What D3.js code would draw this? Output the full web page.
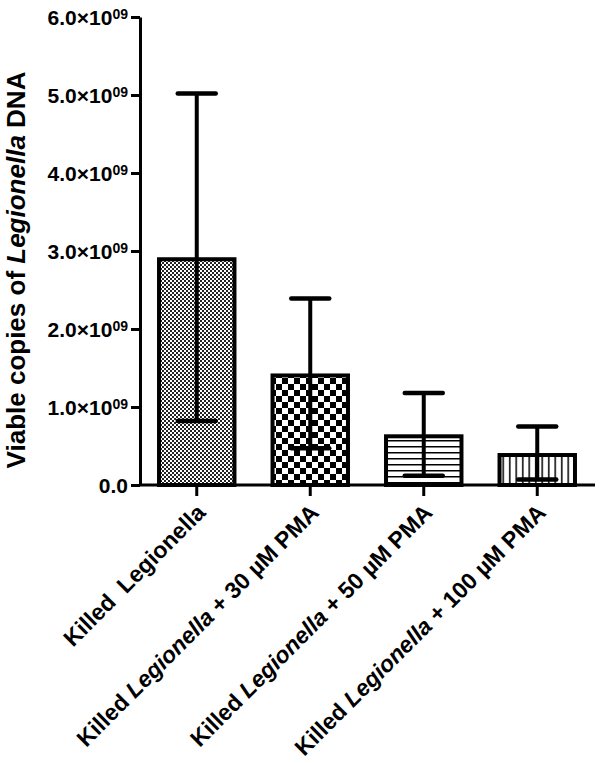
<!DOCTYPE html>
<html>
<head>
<meta charset="utf-8">
<script src="https://cdn.jsdelivr.net/npm/d3@7"></script>
<style>
  body { margin: 0; background: #fff; }
  text { font-family: Arial, "Liberation Sans", sans-serif; font-weight: bold; fill: #000; white-space: pre; }
</style>
</head>
<body>
<script>
// groups, mean and SD (copies x 10^9)
var groups = ['Killed  Legionella', 'Killed Legionella + 30 \u00b5M PMA',
              'Killed Legionella + 50 \u00b5M PMA', 'Killed Legionella + 100 \u00b5M PMA'];
var means = [2.92, 1.43, 0.65, 0.41];
var sds = [2.10, 0.96, 0.53, 0.34];
var patterns = ['fine', 'checker', 'hlines', 'vlines'];
var yTicks = [0, 1, 2, 3, 4, 5, 6];
var tickBase = ['0.0', '1.0\u00d710', '2.0\u00d710', '3.0\u00d710', '4.0\u00d710', '5.0\u00d710', '6.0\u00d710'];
var tickSup = ['', '09', '09', '09', '09', '09', '09'];

var width = 600, height = 763;
var plotLeft = 140, plotRight = 594, plotTop = 17, plotBottom = 485;

var svg = d3.select('body').append('svg')
  .attr('width', width)
  .attr('height', height);

var defs = svg.append('defs');

var p1 = defs.append('pattern').attr('id', 'fine')
  .attr('patternUnits', 'userSpaceOnUse').attr('width', 4).attr('height', 4);
p1.append('rect').attr('width', 4).attr('height', 4).attr('fill', '#fff');
p1.append('rect').attr('width', 2).attr('height', 2).attr('fill', '#222');
p1.append('rect').attr('x', 2).attr('y', 2).attr('width', 2).attr('height', 2).attr('fill', '#222');

var p2 = defs.append('pattern').attr('id', 'checker')
  .attr('patternUnits', 'userSpaceOnUse').attr('width', 12).attr('height', 12);
p2.append('rect').attr('width', 12).attr('height', 12).attr('fill', '#fff');
p2.append('rect').attr('width', 6).attr('height', 6).attr('fill', '#000');
p2.append('rect').attr('x', 6).attr('y', 6).attr('width', 6).attr('height', 6).attr('fill', '#000');

var p3 = defs.append('pattern').attr('id', 'hlines')
  .attr('patternUnits', 'userSpaceOnUse').attr('width', 6).attr('height', 6);
p3.append('rect').attr('width', 6).attr('height', 6).attr('fill', '#fff');
p3.append('rect').attr('y', 2).attr('width', 6).attr('height', 1.5).attr('fill', '#000');

var p4 = defs.append('pattern').attr('id', 'vlines')
  .attr('patternUnits', 'userSpaceOnUse').attr('width', 6.5).attr('height', 6);
p4.append('rect').attr('width', 6.5).attr('height', 6).attr('fill', '#fff');
p4.append('rect').attr('x', 2).attr('width', 1.5).attr('height', 6).attr('fill', '#000');

var x = d3.scaleBand()
  .domain(groups)
  .range([plotLeft, plotRight])
  .paddingInner(0.3)
  .paddingOuter(0.15);

var y = d3.scaleLinear()
  .domain([0, 6])
  .range([plotBottom, plotTop]);

// bars
svg.selectAll('.bar')
  .data(groups)
  .enter().append('rect')
  .attr('class', 'bar')
  .attr('x', function(d) { return x(d) + 2; })
  .attr('width', x.bandwidth() - 4)
  .attr('y', function(d, i) { return y(means[i]) + 2; })
  .attr('height', function(d, i) { return plotBottom - y(means[i]) - 2; })
  .attr('fill', function(d, i) { return 'url(#' + patterns[i] + ')'; })
  .attr('stroke', '#000')
  .attr('stroke-width', 4);

// error bars
var err = svg.selectAll('.err')
  .data(groups)
  .enter().append('g')
  .attr('class', 'err')
  .attr('stroke', '#000')
  .attr('stroke-width', 4);

err.append('line')
  .attr('x1', function(d) { return x(d) + x.bandwidth() / 2; })
  .attr('x2', function(d) { return x(d) + x.bandwidth() / 2; })
  .attr('y1', function(d, i) { return y(means[i] + sds[i]); })
  .attr('y2', function(d, i) { return y(means[i] - sds[i]); });

[1, -1].forEach(function(s) {
  err.append('line')
    .attr('stroke-linecap', 'round')
    .attr('stroke-width', 4.5)
    .attr('x1', function(d) { return x(d) + x.bandwidth() / 2 - 19; })
    .attr('x2', function(d) { return x(d) + x.bandwidth() / 2 + 19; })
    .attr('y1', function(d, i) { return y(means[i] + s * sds[i]); })
    .attr('y2', function(d, i) { return y(means[i] + s * sds[i]); });
});

// y axis
var yAxis = svg.append('g')
  .attr('transform', 'translate(' + plotLeft + ',0)')
  .call(d3.axisLeft(y).tickValues(yTicks).tickSize(9).tickSizeOuter(0).tickFormat(function() { return ''; }));

yAxis.select('.domain').attr('stroke-width', 3);
yAxis.selectAll('.tick line').attr('stroke-width', 3);
yAxis.selectAll('.tick text')
  .attr('x', -12)
  .attr('dy', '0.35em')
  .style('font-size', '21px')
  .each(function(d, i) {
    var t = d3.select(this);
    t.append('tspan').text(tickBase[i]);
    if (tickSup[i]) {
      t.append('tspan').attr('dy', '-0.45em').style('font-size', '14px').text(tickSup[i]);
    }
  });

// x axis
var xAxis = svg.append('g')
  .attr('transform', 'translate(0,' + plotBottom + ')')
  .call(d3.axisBottom(x).tickSize(11).tickSizeOuter(0).tickFormat(function() { return ''; }));

xAxis.select('.domain').attr('stroke-width', 3).attr('d', 'M' + plotLeft + ',0H' + (plotRight + 1));
xAxis.selectAll('.tick line').attr('stroke-width', 3);

var labels = svg.selectAll('.xlab')
  .data(groups)
  .enter().append('text')
  .attr('class', 'xlab')
  .attr('text-anchor', 'end')
  .style('font-size', '23px')
  .attr('transform', function(d) {
    return 'translate(' + (x(d) + x.bandwidth() / 2 + 10) + ',514) rotate(-45)';
  });

labels.each(function(d, i) {
  var t = d3.select(this);
  var parts = d.split('Legionella');
  t.append('tspan').text(parts[0]);
  t.append('tspan').style('font-style', i === 0 ? 'normal' : 'italic').text('Legionella');
  t.append('tspan').text(parts[1]);
});

// y title
var title = svg.append('text')
  .attr('text-anchor', 'middle')
  .attr('transform', 'translate(25,270) rotate(-90)')
  .style('font-size', '26px');
title.append('tspan').text('Viable copies of ');
title.append('tspan').style('font-style', 'italic').text('Legionella');
title.append('tspan').text(' DNA');
</script>
</body>
</html>
